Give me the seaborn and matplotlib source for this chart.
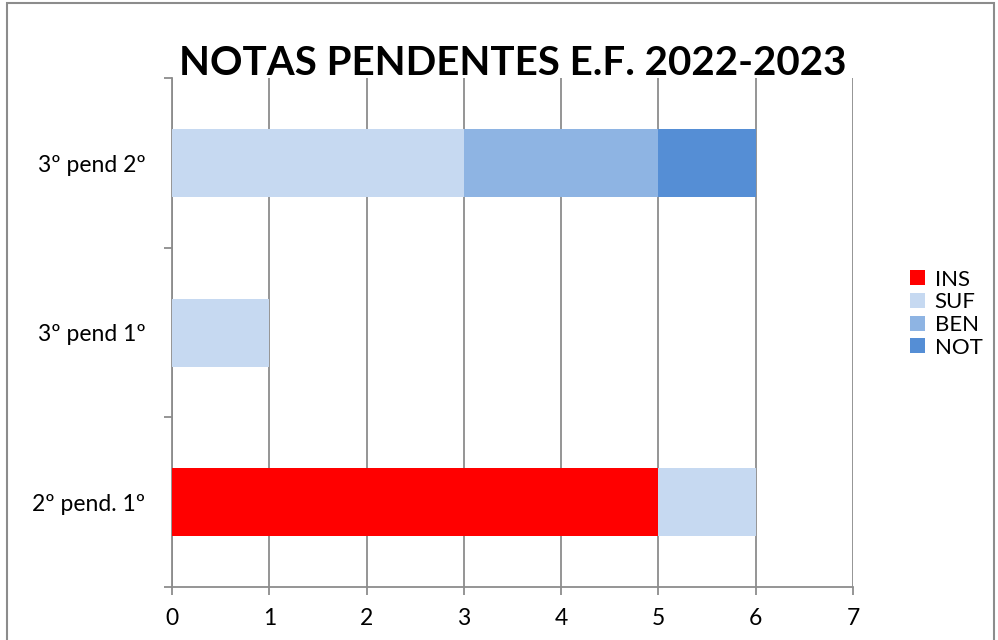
import pandas as pd
import numpy as np
import matplotlib
matplotlib.use("Agg")
import matplotlib.pyplot as plt
import seaborn as sns
from matplotlib.patches import Patch, Rectangle

# ========== data ==========
categories = ["3º pend 2º", "3º pend 1º", "2º pend. 1º"]
series = ["INS", "SUF", "BEN", "NOT"]
ins = [0, 0, 5]
suf = [3, 1, 1]
ben = [2, 0, 0]
nota = [1, 0, 0]
colors = {"INS": "#FF0000", "SUF": "#C6D9F1", "BEN": "#8EB4E3", "NOT": "#558ED5"}

sns.set_theme(style="white")
plt.rcParams['font.family'] = ['Lato', 'DejaVu Sans']
plt.rcParams['text.color'] = 'black'
plt.rcParams['xtick.color'] = 'black'
plt.rcParams['ytick.color'] = 'black'

df = pd.DataFrame({"cat": categories, "INS": ins, "SUF": suf, "BEN": ben, "NOT": nota})
# cumulative sums for stacking (draw the longest first)
cum = df[series].cumsum(axis=1)
cum["cat"] = df["cat"]

fig = plt.figure(figsize=(9.98, 6.40), dpi=100)
ax = fig.add_axes([0.1723, 0.0828, 0.6824, 0.795])

grey = "#8C8C8C"
for s in reversed(series):
    sns.barplot(data=cum, x=s, y="cat", order=categories, orient="h",
                color=colors[s], saturation=1, width=0.4, linewidth=0,
                ax=ax, zorder=3)

ax.set_xlim(0, 7)
ax.set_ylim(2.5, -0.5)
ax.set_xticks(range(0, 8))
ax.set_xlabel("")
ax.set_ylabel("")
ax.grid(axis="x", color=grey, lw=1.3, zorder=0)
ax.set_axisbelow(True)
for sp in ["top", "right"]:
    ax.spines[sp].set_visible(False)
for sp in ["left", "bottom"]:
    ax.spines[sp].set_color(grey)
    ax.spines[sp].set_linewidth(1.3)

ax.tick_params(axis="x", direction="out", length=6, width=1.3, color=grey,
               labelsize=16.5, pad=9, bottom=True, labelcolor="black")
ax.tick_params(axis="y", which="major", length=0, labelsize=16.5, pad=19,
               labelcolor="black")
ax.set_yticks([-0.5, 0.5, 1.5, 2.5], minor=True)
ax.tick_params(axis="y", which="minor", direction="out", length=6, width=1.3,
               color=grey, left=True)

ax.set_title("NOTAS PENDENTES E.F. 2022-2023", fontsize=29, fontweight="bold",
             color="black", y=0.985, pad=8, loc="center")

handles = [Patch(facecolor=colors[s], edgecolor="none", label=s) for s in series]
fig.legend(handles=handles, loc="center left", bbox_to_anchor=(0.912, 0.51),
           frameon=False, fontsize=16, handlelength=0.65, handleheight=0.65,
           handletextpad=0.45, labelspacing=0.12, borderaxespad=0,
           borderpad=0, labelcolor="black")

# outer chart border
fig.patches.append(Rectangle((0.007, -0.05), 0.989, 1.045, transform=fig.transFigure,
                             fill=False, edgecolor="#8C8C8C", lw=1.5))

fig.savefig("out.png", dpi=100)
